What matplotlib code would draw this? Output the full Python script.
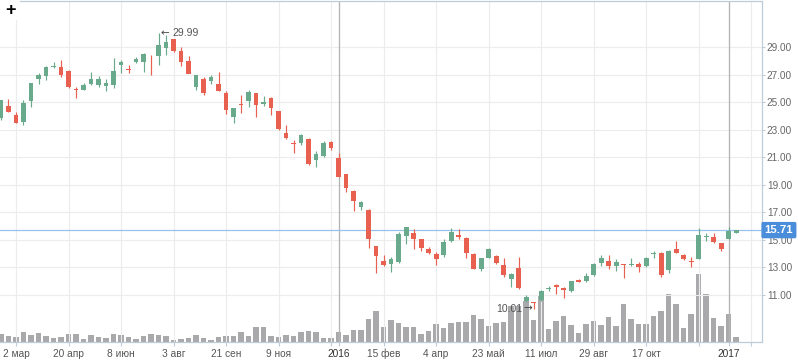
import matplotlib
matplotlib.use("Agg")
import matplotlib.pyplot as plt
from matplotlib.transforms import blended_transform_factory
from matplotlib.patches import Rectangle
import numpy as np

plt.rcParams['font.family'] = ['Liberation Sans', 'DejaVu Sans']

# ---------------- data (weekly candles) ----------------
opens = [23.87, 24.72, 24.06, 23.58, 25.08, 26.68, 26.92, 27.52, 27.55, 27.26,
         25.92, 25.88, 26.29, 26.24, 26.17, 26.24, 27.69, 27.37, 27.89, 27.89,
         27.75, 28.37, 28.95, 29.58, 28.71, 27.98, 26.12, 26.68, 26.55, 26.31,
         25.64, 23.94, 24.79, 25.08, 25.64, 24.84, 25.28, 24.35, 22.74, 21.97,
         22.05, 22.32, 20.80, 21.09, 22.08, 20.92, 19.76, 18.55, 17.41, 17.17,
         14.56, 13.47, 13.23, 13.42, 15.30, 15.52, 15.06, 14.34, 13.98, 13.90,
         14.92, 15.36, 15.16, 13.95, 12.86, 13.71, 13.83, 13.18, 12.14, 12.98,
         10.56, 10.51, 10.64, 11.41, 11.73, 11.53, 11.29, 12.09, 12.02, 12.45,
         13.34, 13.47, 13.13, 13.20, 13.20, 13.25, 13.11, 14.00, 14.03, 12.81,
         14.34, 13.90, 13.44, 13.59, 15.20, 15.19, 14.75, 15.09, 15.52]
highs = [25.15, 25.23, 24.26, 25.13, 26.37, 27.09, 27.62, 27.91, 28.08, 27.33,
         26.12, 26.37, 27.21, 26.92, 26.68, 28.18, 28.06, 27.69, 28.27, 28.59,
         28.42, 29.99, 29.87, 29.58, 29.02, 28.35, 26.97, 26.84, 26.97, 27.21,
         25.81, 24.55, 25.52, 25.88, 25.64, 25.44, 25.35, 24.35, 23.34, 22.25,
         22.69, 22.42, 21.45, 22.18, 22.18, 21.28, 19.76, 18.62, 17.82, 17.24,
         14.56, 13.90, 13.74, 15.59, 15.91, 15.79, 15.06, 14.46, 14.10, 15.06,
         15.84, 15.79, 15.23, 14.07, 13.71, 14.43, 13.90, 13.66, 12.62, 13.78,
         11.00, 10.51, 11.36, 11.65, 11.80, 11.60, 12.04, 12.16, 12.58, 13.30,
         13.90, 13.90, 13.61, 13.23, 13.66, 13.42, 13.78, 14.19, 14.14, 14.27,
         14.92, 13.98, 13.78, 15.88, 15.48, 15.52, 14.75, 15.96, 15.71]
lows = [23.70, 24.30, 23.51, 23.34, 24.67, 26.31, 26.60, 27.50, 26.84, 26.05,
        25.32, 25.88, 26.24, 26.12, 25.83, 26.00, 27.09, 27.09, 27.82, 27.21,
        26.97, 27.69, 28.42, 28.62, 27.64, 27.09, 25.88, 25.52, 26.31, 25.83,
        24.12, 23.51, 24.23, 24.67, 23.94, 24.74, 24.06, 22.98, 22.32, 21.33,
        21.89, 20.44, 20.31, 21.04, 21.52, 19.59, 18.50, 17.12, 17.17, 14.43,
        12.58, 13.11, 12.69, 13.34, 14.70, 14.32, 14.22, 13.95, 13.18, 13.74,
        14.87, 15.06, 13.66, 12.86, 12.74, 13.71, 13.23, 12.33, 11.60, 11.44,
        10.51, 10.01, 10.56, 11.29, 11.05, 10.80, 11.24, 11.92, 11.97, 12.40,
        13.11, 12.89, 12.77, 12.26, 13.11, 12.69, 13.01, 13.66, 12.33, 12.62,
        14.03, 13.56, 13.05, 13.59, 14.94, 14.80, 14.19, 15.09, 15.48]
closes = [25.15, 24.30, 23.51, 24.91, 26.37, 26.97, 27.55, 27.58, 26.97, 26.10,
          25.89, 26.24, 26.68, 26.68, 26.39, 27.26, 27.93, 27.34, 28.13, 28.49,
          27.73, 29.15, 29.38, 28.73, 27.93, 27.04, 26.97, 25.64, 26.84, 25.83,
          24.43, 24.55, 24.76, 25.71, 24.79, 25.03, 24.55, 23.07, 22.42, 21.95,
          22.61, 20.51, 21.23, 22.05, 21.69, 19.59, 18.74, 17.84, 17.73, 15.04,
          13.85, 13.18, 13.61, 15.43, 15.91, 15.06, 14.39, 14.07, 13.59, 14.82,
          15.55, 15.19, 14.03, 12.86, 13.71, 14.32, 13.34, 12.45, 12.52, 11.49,
          10.88, 10.44, 11.31, 11.53, 11.60, 11.36, 12.02, 11.97, 12.38, 13.23,
          13.66, 13.11, 13.42, 13.16, 13.25, 13.05, 13.71, 14.05, 12.45, 14.19,
          14.03, 13.61, 13.40, 15.36, 15.26, 14.87, 14.32, 15.65, 15.71]
volumes = [2.5, 1.9, 1.7, 3.1, 2.2, 2.8, 1.9, 1.3, 1.7, 2.5,
           2.5, 1.0, 2.2, 1.7, 1.3, 2.5, 2.2, 1.7, 1.0, 1.9,
           2.5, 2.2, 1.9, 0.7, 1.0, 1.3, 2.2, 1.3, 0.7, 1.7,
           1.9, 1.9, 3.1, 1.9, 4.7, 4.7, 1.9, 1.6, 2.2, 1.9,
           3.1, 3.4, 3.1, 1.3, 1.3, 3.1, 2.2, 3.7, 3.7, 7.0,
           9.4, 4.6, 6.7, 5.8, 4.6, 4.6, 2.5, 3.4, 5.5, 4.3,
           5.8, 6.1, 6.1, 8.2, 7.0, 4.9, 5.8, 6.1, 10.9, 10.9,
           12.4, 6.7, 14.0, 4.0, 6.4, 7.9, 5.2, 2.8, 5.5, 6.4,
           5.2, 7.6, 4.9, 11.5, 7.0, 5.5, 5.5, 7.9, 9.4, 14.5,
           11.5, 4.3, 8.5, 20.5, 14.5, 7.4, 4.9, 8.5, 1.6]

date_labels = ["2 мар", "20 апр", "8 июн", "3 авг", "21 сен", "9 ноя", "",
               "15 фев", "4 апр", "23 май", "11 июл", "29 авг", "17 окт", "", ""]
year_labels = ["2016", "2017"]
year_index = [45, 97]
price_ticks = [11, 13, 15, 17, 19, 21, 23, 25, 27, 29]
last_price = 15.71
max_label, max_index = "29.99", 21
min_label, min_index = "10.01", 71

# ---------------- styling ----------------
UP = '#6aaa8c'
DOWN = '#e8604f'
VOLC = '#a9a9ab'
SPINE = '#bfcbd8'
GRID = '#ececec'

W, H = 798, 363
fig = plt.figure(figsize=(W / 100, H / 100), dpi=100)
fig.patch.set_facecolor('white')

rect = [0.0, (H - 342.3) / H, 762.3 / W, (342.3 - 0.5) / H]
axv = fig.add_axes(rect)
ax = fig.add_axes(rect, sharex=axv)
ax.set_zorder(2)
axv.set_zorder(1)
ax.patch.set_visible(False)

n = len(opens)
x = np.arange(n)
o = np.array(opens); c = np.array(closes)
h = np.array(highs); l = np.array(lows)
up = c >= o
cols = np.where(up, UP, DOWN)

# volume
axv.bar(x, volumes, width=0.72, color=VOLC, zorder=2)
axv.set_ylim(0, 102.5)
axv.set_xlim(-0.133, 101.5)
for s in axv.spines.values():
    s.set_visible(False)
axv.tick_params(left=False, right=False, bottom=False, top=False,
                labelleft=False, labelbottom=False)

# candles
ax.vlines(x, l, h, colors=cols, lw=0.85, zorder=4)
body_h = np.maximum(np.abs(c - o), 0.07)
body_b = np.minimum(o, c)
ax.bar(x, body_h, bottom=body_b, width=0.66, color=cols, zorder=5, linewidth=0)

ax.set_ylim(7.567, 32.375)
ax.set_xlim(-0.133, 101.5)

# grid & ticks
tick_pos = list(range(2, 101, 7))
all_pos = tick_pos + year_index
all_lab = date_labels + year_labels
order = np.argsort(all_pos)
ax.set_xticks([all_pos[k] for k in order])
ax.set_xticklabels([all_lab[k] for k in order])
for t in ax.get_xticklabels():
    t.set_color('#333333' if t.get_text() in year_labels else '#555555')

ax.yaxis.tick_right()
ax.set_yticks(price_ticks)
ax.set_yticklabels([f"{v:.2f}" for v in price_ticks])
ax.grid(True, color=GRID, lw=0.8, zorder=0)
ax.set_axisbelow(True)
ax.tick_params(axis='x', length=3, width=0.8, color=SPINE, labelsize=7.3,
               pad=1.8)
ax.tick_params(axis='y', length=2.5, width=0.8, color=SPINE, labelsize=7.2,
               labelcolor='#666666', pad=0.8)

for yi in year_index:
    ax.axvline(yi, color='#b3b3b3', lw=0.9, zorder=1)

ax.spines['left'].set_visible(False)
for k in ('top', 'right', 'bottom'):
    ax.spines[k].set_color(SPINE)
    ax.spines[k].set_linewidth(0.9)

# last price
ax.axhline(last_price, color='#9ac0ee', lw=0.9, zorder=3)
tr = blended_transform_factory(ax.transAxes, ax.transData)
ax.text(1.003, last_price, f"{last_price:.2f}", transform=tr, ha='left',
        va='center', color='white', fontsize=8.2, fontweight='bold',
        bbox=dict(boxstyle='round,pad=0.28,rounding_size=0.15', fc='#4a8edb',
                  ec='none'), zorder=10, clip_on=False)

# max / min annotations (arrow glyph drawn in DejaVu Sans)
ax.annotate("\u2190", (max_index + 0.3, float(max_label)), ha='left',
            va='center', fontsize=7.5, color='#444444', zorder=6,
            family='DejaVu Sans')
ax.annotate(max_label, (max_index + 0.3, float(max_label)), xytext=(8.2, 0),
            textcoords='offset points', ha='left', va='center', fontsize=7.5,
            color='#555555', zorder=6)
ax.annotate("\u2192", (min_index - 0.25, float(min_label)), ha='right',
            va='center', fontsize=7.5, color='#444444', zorder=6,
            family='DejaVu Sans')
ax.annotate(min_label, (min_index - 0.25, float(min_label)), xytext=(-7.0, 0),
            textcoords='offset points', ha='right', va='center', fontsize=7.5,
            color='#555555', zorder=6)

# top-left "+" icon
fig.patches.append(Rectangle((0, 1 - 20 / H), 19.5 / W, 20 / H,
                             transform=fig.transFigure, fc='white', ec='none',
                             zorder=5))
fig.text(10 / W, 1 - 10.5 / H, '+', ha='center', va='center', fontsize=13,
         fontweight='bold', color='black', zorder=6)

fig.savefig('out.png', dpi=100)
